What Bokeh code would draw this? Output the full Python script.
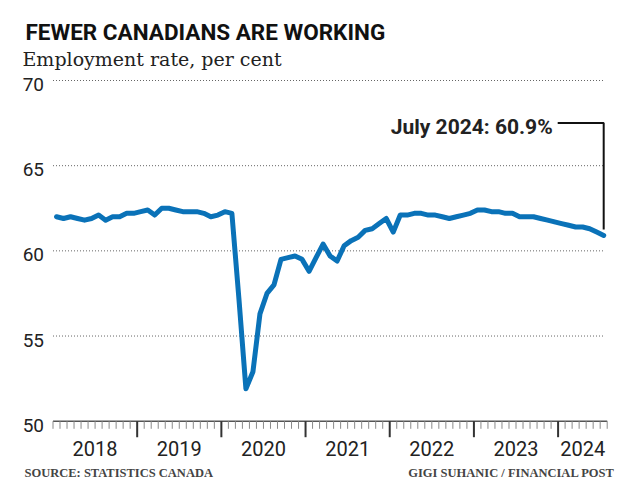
from bokeh.plotting import figure
from bokeh.models import Range1d, Label
from bokeh.core.properties import value
from bokeh.embed import file_html
from bokeh.resources import INLINE

# ---------------- data ----------------
years = ["2018", "2019", "2020", "2021", "2022", "2023", "2024"]
employment_rate = [
    # 2018
    62.0, 61.9, 62.0, 61.9, 61.8, 61.9, 62.1, 61.8, 62.0, 62.0, 62.2, 62.2,
    # 2019
    62.3, 62.4, 62.1, 62.5, 62.5, 62.4, 62.3, 62.3, 62.3, 62.2, 62.0, 62.1,
    # 2020
    62.3, 62.2, 57.2, 51.9, 52.9, 56.3, 57.5, 58.0, 59.5, 59.6, 59.7, 59.5,
    # 2021
    58.8, 59.6, 60.4, 59.7, 59.4, 60.3, 60.6, 60.8, 61.2, 61.3, 61.6, 61.9,
    # 2022
    61.1, 62.1, 62.1, 62.2, 62.2, 62.1, 62.1, 62.0, 61.9, 62.0, 62.1, 62.2,
    # 2023
    62.4, 62.4, 62.3, 62.3, 62.2, 62.2, 62.0, 62.0, 62.0, 61.9, 61.8, 61.7,
    # 2024 (Jan-Jul)
    61.6, 61.5, 61.4, 61.4, 61.3, 61.1, 60.9,
]
y_ticks = [50, 55, 60, 65, 70]
last_label = "July 2024"
title_text = "FEWER CANADIANS ARE WORKING"
subtitle_text = "Employment rate, per cent"
source_text = "SOURCE: STATISTICS CANADA"
credit_text = "GIGI SUHANIC / FINANCIAL POST"

# ---------------- layout ----------------
W, H = 640, 486
n = len(employment_rate)
month_x = [i + 0.5 for i in range(n)]

frame_x_first = 52.5    # pixel of first month boundary
frame_x_last = 606.7    # pixel of last month boundary
ppm = (frame_x_last - frame_x_first) / n
x_start = -frame_x_first / ppm
x_end = x_start + W / ppm

frame_y_top = 80.0      # pixel of top tick
frame_y_base = 420.7    # pixel of bottom tick
ppu = (frame_y_base - frame_y_top) / (y_ticks[-1] - y_ticks[0])
y_end = y_ticks[-1] + frame_y_top / ppu
y_start = y_end - H / ppu

SANS = "Roboto"
SERIF = "DejaVu Serif"
BLUE = "#0a72b8"

p = figure(width=W, height=H, output_backend="svg", toolbar_location=None,
           x_range=Range1d(x_start, x_end), y_range=Range1d(y_start, y_end),
           x_axis_location=None, y_axis_location=None, min_border=0,
           outline_line_color=None, background_fill_color="white",
           border_fill_color="white")
p.grid.visible = False

base = y_ticks[0]

# gridlines (dotted)
grid_vals = y_ticks[1:]
p.segment(x0=[0] * len(grid_vals), y0=grid_vals,
          x1=[month_x[-1]] * len(grid_vals), y1=grid_vals,
          line_color="#666666", line_width=1, line_dash="1 2")

# x axis baseline
p.segment(x0=[0], y0=[base], x1=[n], y1=[base], line_color="#555555", line_width=1.5)

# monthly ticks and year ticks
year_starts = [12 * i for i in range(1, len(years))]
minor = [m for m in range(n + 1) if m not in year_starts]
p.segment(x0=minor, y0=[base] * len(minor), x1=minor,
          y1=[base - 7.6 / ppu] * len(minor), line_color="#8a8a8a", line_width=1)
p.segment(x0=year_starts, y0=[base] * len(year_starts), x1=year_starts,
          y1=[base - 16 / ppu] * len(year_starts), line_color="#333333", line_width=2)

# year labels centred in each year
year_mid = [(12 * i + min(12 * (i + 1), n)) / 2 for i in range(len(years))]
p.text(x=year_mid, y=[base] * len(years), text=years, y_offset=27,
       text_font=value(SANS), text_font_size="20px", text_color="#222222",
       text_align="center", text_baseline="alphabetic")

# y labels
p.text(x=[0] * len(y_ticks), y=y_ticks, text=[str(t) for t in y_ticks],
       x_offset=-9, y_offset=4, text_font=value(SANS), text_font_size="19px",
       text_color="#222222", text_align="right", text_baseline="middle")

# data line
p.line(month_x, employment_rate, line_color=BLUE, line_width=5,
       line_join="round", line_cap="round")

# annotation
ann_y = 67.5
last_x = month_x[-1]
last_v = employment_rate[-1]
p.line(x=[last_x - 46 / ppm, last_x, last_x],
       y=[ann_y, ann_y, last_v + 6 / ppu],
       line_color="#111111", line_width=2)
p.text(x=[last_x], y=[ann_y], text=[f"{last_label}: {last_v}%"],
       x_offset=-51, y_offset=4, text_font=value(SANS), text_font_size="21px",
       text_font_style="bold", text_color="#222222", text_align="right",
       text_baseline="middle")

# titles and footer (screen units measured from frame bottom-left)
p.add_layout(Label(x=25, y=H - 31, x_units="screen", y_units="screen",
                   text=title_text, text_font=SANS, text_font_size="22.5px",
                   text_font_style="bold", text_color="#111111",
                   text_baseline="alphabetic"))
p.add_layout(Label(x=22, y=H - 58.3, x_units="screen", y_units="screen",
                   text=subtitle_text, text_font=SERIF, text_font_size="19px",
                   text_color="#222222", text_baseline="alphabetic"))
p.add_layout(Label(x=24, y=H - 472, x_units="screen", y_units="screen",
                   text=source_text, text_font="Liberation Serif",
                   text_font_size="12.5px", text_font_style="bold",
                   text_color="#444444", text_baseline="alphabetic"))
p.add_layout(Label(x=614, y=H - 472, x_units="screen", y_units="screen",
                   text=credit_text, text_font="Liberation Serif",
                   text_font_size="12.5px", text_font_style="bold",
                   text_color="#444444", text_align="right",
                   text_baseline="alphabetic"))

open("out.html", "w").write(file_html(p, INLINE))
